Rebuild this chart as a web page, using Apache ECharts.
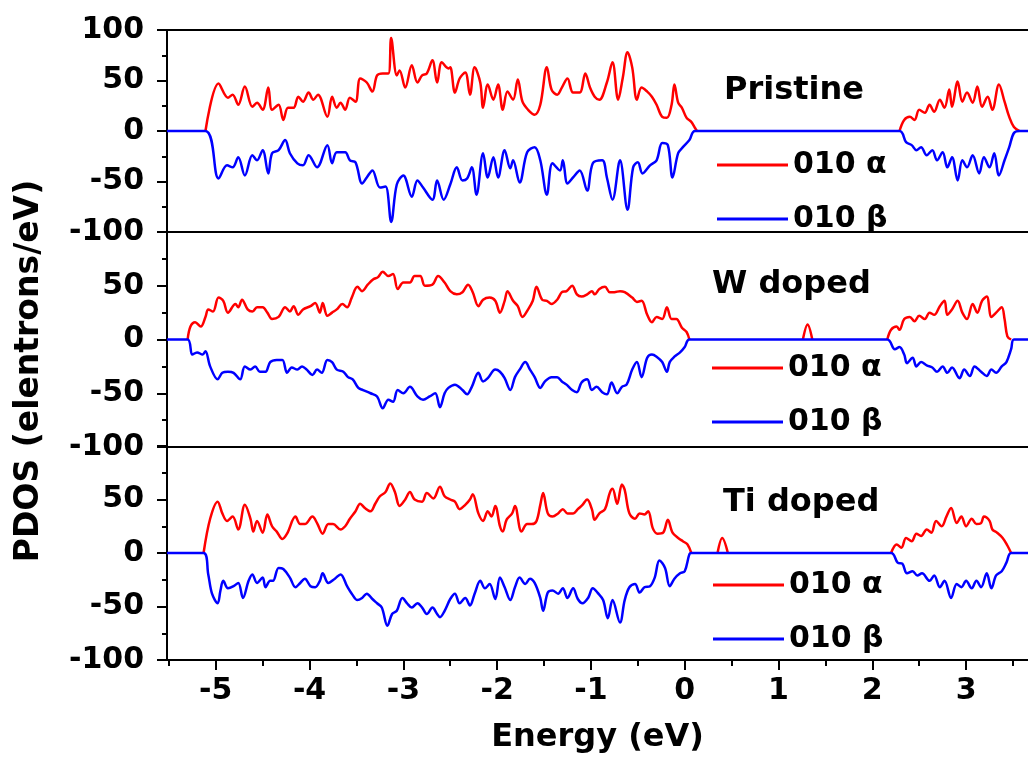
<!DOCTYPE html>
<html><head><meta charset="utf-8">
<script src="https://cdn.jsdelivr.net/npm/echarts@6/dist/echarts.min.js"></script>
<style>html,body{margin:0;padding:0;background:#fff}#c{width:1028px;height:767px}</style>
</head><body><div id="c"></div><script>
// ---------- data ----------
const xTickValues = [-5, -4, -3, -2, -1, 0, 1, 2, 3];
const xMinorTickValues = [-5.5, -4.5, -3.5, -2.5, -1.5, -0.5, 0.5, 1.5, 2.5, 3.5];
const panelNames = ['Pristine', 'W doped', 'Ti doped'];
const seriesNames = ['010 \u03b1', '010 \u03b2'];
const X_MIN = -5.52, X_MAX = 3.66;

// alpha (spin-up) curves: gaps (null) where the curve lies on the zero line
const pristineAlpha = [[-5.11,0],[-4.97,47],[-4.87,33],[-4.82,36],[-4.76,26],[-4.69,44],[-4.61,24],[-4.56,28],[-4.50,21],[-4.44,43],[-4.40,21],[-4.33,26],[-4.28,11],[-4.23,23],[-4.17,23],[-4.12,34],[-4.07,29],[-4.01,38],[-3.96,31],[-3.91,36],[-3.81,14],[-3.76,34],[-3.71,23],[-3.67,28],[-3.62,21],[-3.57,33],[-3.51,29],[-3.46,52],[-3.39,48],[-3.33,39],[-3.28,55],[-3.22,57],[-3.16,57],[-3.13,92],[-3.07,55],[-3.04,60],[-2.98,43],[-2.91,65],[-2.85,48],[-2.80,55],[-2.75,57],[-2.69,70],[-2.64,48],[-2.59,68],[-2.52,62],[-2.50,63],[-2.45,38],[-2.40,52],[-2.34,58],[-2.29,36],[-2.24,63],[-2.18,48],[-2.15,23],[-2.10,46],[-2.04,31],[-1.99,46],[-1.94,21],[-1.89,39],[-1.83,31],[-1.78,51],[-1.73,29],[-1.67,21],[-1.60,16],[-1.54,26],[-1.47,63],[-1.42,41],[-1.36,36],[-1.31,43],[-1.25,52],[-1.19,38],[-1.12,38],[-1.06,57],[-1.01,43],[-0.96,34],[-0.91,31],[-0.83,48],[-0.77,68],[-0.71,31],[-0.66,53],[-0.61,78],[-0.56,63],[-0.51,31],[-0.46,43],[-0.40,39],[-0.35,34],[-0.30,26],[-0.24,14],[-0.19,13],[-0.14,26],[-0.11,46],[-0.07,28],[-0.03,23],[0.02,13],[0.07,9],[0.11,3],[0.13,0],[1.0,null],
  [2.29,0],[2.34,11],[2.40,14],[2.45,11],[2.50,21],[2.56,18],[2.61,26],[2.66,19],[2.72,31],[2.77,23],[2.82,41],[2.85,24],[2.91,49],[2.96,29],[3.01,38],[3.07,28],[3.12,44],[3.17,24],[3.23,34],[3.28,21],[3.35,46],[3.41,29],[3.46,14],[3.51,4],[3.57,0]];
const pristineBeta = [[-5.52,0],[-5.11,0],[-4.97,-47],[-4.88,-34],[-4.82,-36],[-4.76,-26],[-4.69,-44],[-4.61,-24],[-4.56,-29],[-4.50,-19],[-4.44,-42],[-4.40,-22],[-4.33,-19],[-4.26,-9],[-4.21,-22],[-4.13,-32],[-4.07,-34],[-4.01,-24],[-3.92,-36],[-3.81,-14],[-3.76,-32],[-3.71,-21],[-3.62,-21],[-3.57,-29],[-3.51,-31],[-3.44,-52],[-3.39,-46],[-3.33,-39],[-3.25,-56],[-3.19,-55],[-3.13,-90],[-3.07,-53],[-3.00,-44],[-2.91,-65],[-2.85,-49],[-2.79,-56],[-2.69,-68],[-2.64,-49],[-2.57,-68],[-2.50,-53],[-2.43,-36],[-2.37,-49],[-2.32,-47],[-2.27,-36],[-2.22,-63],[-2.15,-22],[-2.10,-46],[-2.04,-26],[-1.99,-46],[-1.92,-19],[-1.86,-37],[-1.83,-29],[-1.76,-51],[-1.68,-21],[-1.60,-16],[-1.54,-29],[-1.47,-63],[-1.41,-32],[-1.33,-39],[-1.30,-29],[-1.25,-52],[-1.19,-46],[-1.12,-39],[-1.04,-59],[-0.98,-32],[-0.88,-29],[-0.83,-46],[-0.77,-68],[-0.69,-29],[-0.61,-78],[-0.55,-36],[-0.50,-31],[-0.45,-42],[-0.37,-34],[-0.30,-29],[-0.24,-12],[-0.18,-14],[-0.13,-46],[-0.07,-22],[-0.02,-16],[0.05,-9],[0.11,0],
  [2.29,0],[2.36,-11],[2.42,-14],[2.47,-19],[2.52,-16],[2.58,-24],[2.64,-19],[2.69,-29],[2.75,-21],[2.80,-36],[2.85,-26],[2.91,-49],[2.96,-29],[3.01,-36],[3.07,-24],[3.14,-42],[3.19,-26],[3.25,-36],[3.30,-22],[3.35,-44],[3.41,-29],[3.46,-16],[3.51,-2],[3.57,0],[3.66,0]];

const wAlpha = [[-5.30,0],[-5.27,12],[-5.22,16],[-5.16,12],[-5.11,21],[-5.08,28],[-5.03,26],[-4.97,39],[-4.92,36],[-4.87,25],[-4.79,33],[-4.76,30],[-4.72,37],[-4.66,28],[-4.61,26],[-4.56,30],[-4.50,30],[-4.45,25],[-4.40,19],[-4.33,21],[-4.26,30],[-4.21,26],[-4.17,31],[-4.12,23],[-4.07,28],[-3.99,31],[-3.94,34],[-3.89,25],[-3.86,34],[-3.81,22],[-3.76,25],[-3.71,28],[-3.65,33],[-3.60,30],[-3.55,39],[-3.49,49],[-3.44,45],[-3.38,51],[-3.32,56],[-3.27,58],[-3.22,63],[-3.16,59],[-3.11,61],[-3.06,47],[-3.00,53],[-2.93,53],[-2.88,59],[-2.82,59],[-2.77,50],[-2.69,51],[-2.63,59],[-2.56,53],[-2.50,45],[-2.43,42],[-2.37,44],[-2.31,51],[-2.26,44],[-2.20,31],[-2.15,37],[-2.08,39],[-2.02,36],[-1.97,25],[-1.92,36],[-1.89,45],[-1.83,36],[-1.78,31],[-1.73,21],[-1.67,28],[-1.62,36],[-1.58,49],[-1.52,37],[-1.47,36],[-1.42,33],[-1.36,37],[-1.31,44],[-1.26,45],[-1.20,50],[-1.15,42],[-1.10,40],[-1.04,42],[-0.99,45],[-0.96,42],[-0.91,47],[-0.85,49],[-0.80,44],[-0.75,44],[-0.69,45],[-0.64,44],[-0.56,39],[-0.51,35],[-0.46,36],[-0.40,23],[-0.35,16],[-0.30,21],[-0.24,19],[-0.19,30],[-0.14,19],[-0.09,19],[-0.03,11],[0.02,7],[0.05,0],[0.6,null],
  [1.26,0],[1.31,14],[1.36,0],[1.8,null],
  [2.16,0],[2.20,9],[2.26,12],[2.29,9],[2.34,19],[2.40,21],[2.45,17],[2.50,22],[2.56,19],[2.61,25],[2.66,23],[2.72,31],[2.77,36],[2.80,23],[2.85,28],[2.91,36],[2.96,25],[3.01,19],[3.07,33],[3.12,25],[3.17,36],[3.22,40],[3.27,21],[3.32,25],[3.38,30],[3.41,19],[3.44,3],[3.48,0]];
const wBeta = [[-5.52,0],[-5.30,0],[-5.25,-14],[-5.20,-12],[-5.14,-14],[-5.11,-11],[-5.06,-25],[-4.98,-37],[-4.93,-31],[-4.87,-30],[-4.81,-31],[-4.74,-37],[-4.69,-25],[-4.63,-28],[-4.58,-25],[-4.53,-30],[-4.47,-30],[-4.42,-21],[-4.35,-19],[-4.29,-19],[-4.24,-31],[-4.19,-26],[-4.13,-28],[-4.08,-25],[-4.03,-28],[-3.97,-33],[-3.92,-28],[-3.87,-31],[-3.81,-19],[-3.76,-21],[-3.71,-28],[-3.64,-30],[-3.59,-35],[-3.54,-37],[-3.48,-45],[-3.43,-47],[-3.35,-50],[-3.28,-53],[-3.22,-64],[-3.16,-56],[-3.11,-58],[-3.06,-47],[-3.00,-50],[-2.93,-44],[-2.85,-53],[-2.79,-56],[-2.72,-53],[-2.66,-50],[-2.61,-63],[-2.56,-50],[-2.52,-45],[-2.45,-42],[-2.37,-47],[-2.32,-51],[-2.27,-44],[-2.20,-31],[-2.15,-39],[-2.10,-36],[-2.02,-28],[-1.97,-30],[-1.92,-36],[-1.86,-47],[-1.81,-35],[-1.76,-28],[-1.70,-21],[-1.65,-28],[-1.60,-35],[-1.54,-45],[-1.49,-39],[-1.42,-35],[-1.36,-35],[-1.31,-39],[-1.26,-42],[-1.20,-47],[-1.15,-49],[-1.10,-40],[-1.04,-37],[-0.99,-47],[-0.94,-44],[-0.88,-49],[-0.83,-51],[-0.78,-40],[-0.72,-50],[-0.67,-44],[-0.62,-42],[-0.56,-28],[-0.51,-21],[-0.46,-35],[-0.40,-17],[-0.35,-14],[-0.30,-16],[-0.24,-21],[-0.19,-30],[-0.16,-21],[-0.11,-16],[-0.05,-12],[0.00,-7],[0.05,0],
  [2.16,0],[2.24,-9],[2.29,-7],[2.34,-14],[2.37,-22],[2.43,-17],[2.47,-25],[2.52,-21],[2.58,-24],[2.64,-26],[2.69,-30],[2.75,-25],[2.80,-31],[2.85,-26],[2.93,-36],[2.98,-28],[3.04,-34],[3.09,-25],[3.16,-30],[3.22,-34],[3.27,-28],[3.32,-31],[3.38,-25],[3.43,-21],[3.48,-9],[3.51,0],[3.66,0]];

const tiAlpha = [[-5.13,0],[-5.06,32],[-4.98,48],[-4.93,37],[-4.88,30],[-4.82,34],[-4.76,22],[-4.69,45],[-4.63,32],[-4.60,20],[-4.56,30],[-4.50,19],[-4.45,36],[-4.40,25],[-4.35,20],[-4.29,13],[-4.24,18],[-4.15,34],[-4.10,27],[-4.05,27],[-3.97,34],[-3.92,28],[-3.86,18],[-3.80,27],[-3.75,27],[-3.67,22],[-3.62,25],[-3.57,32],[-3.51,39],[-3.46,46],[-3.41,42],[-3.35,39],[-3.30,46],[-3.25,53],[-3.19,57],[-3.14,65],[-3.09,57],[-3.04,44],[-2.98,50],[-2.93,57],[-2.88,50],[-2.80,48],[-2.75,56],[-2.68,51],[-2.61,62],[-2.56,53],[-2.50,50],[-2.45,48],[-2.40,41],[-2.34,45],[-2.29,50],[-2.26,55],[-2.20,37],[-2.15,30],[-2.10,39],[-2.06,34],[-2.02,44],[-1.97,25],[-1.94,20],[-1.90,31],[-1.84,37],[-1.81,44],[-1.74,20],[-1.68,27],[-1.63,27],[-1.58,30],[-1.54,45],[-1.51,56],[-1.46,37],[-1.41,34],[-1.35,37],[-1.30,41],[-1.25,37],[-1.19,37],[-1.14,41],[-1.09,45],[-1.04,50],[-0.99,41],[-0.96,31],[-0.91,37],[-0.85,41],[-0.80,56],[-0.77,60],[-0.72,46],[-0.67,64],[-0.64,59],[-0.59,37],[-0.53,32],[-0.48,37],[-0.43,36],[-0.39,39],[-0.34,23],[-0.29,18],[-0.23,19],[-0.18,31],[-0.13,19],[-0.07,14],[-0.02,11],[0.03,8],[0.07,0],[0.2,null],
  [0.35,0],[0.40,14],[0.46,0],[1.2,null],
  [2.20,0],[2.26,8],[2.31,5],[2.36,14],[2.42,11],[2.47,18],[2.52,16],[2.58,22],[2.63,19],[2.68,30],[2.74,25],[2.79,34],[2.84,42],[2.90,28],[2.95,34],[3.00,25],[3.06,32],[3.11,27],[3.16,28],[3.19,34],[3.25,30],[3.28,22],[3.33,19],[3.39,14],[3.44,7],[3.48,0]];
const tiBeta = [[-5.52,0],[-5.13,0],[-5.08,-20],[-5.04,-38],[-4.98,-47],[-4.95,-35],[-4.92,-26],[-4.87,-33],[-4.81,-31],[-4.76,-28],[-4.71,-42],[-4.65,-26],[-4.61,-20],[-4.56,-28],[-4.50,-23],[-4.47,-32],[-4.42,-26],[-4.39,-26],[-4.33,-14],[-4.28,-15],[-4.21,-23],[-4.15,-32],[-4.10,-28],[-4.05,-24],[-3.99,-31],[-3.94,-32],[-3.89,-26],[-3.86,-19],[-3.80,-28],[-3.73,-24],[-3.67,-20],[-3.60,-31],[-3.55,-38],[-3.49,-44],[-3.44,-42],[-3.39,-38],[-3.33,-43],[-3.28,-47],[-3.23,-51],[-3.17,-68],[-3.12,-57],[-3.07,-54],[-3.01,-42],[-2.96,-47],[-2.91,-51],[-2.85,-47],[-2.80,-51],[-2.75,-57],[-2.69,-51],[-2.64,-57],[-2.61,-60],[-2.56,-54],[-2.50,-43],[-2.45,-38],[-2.40,-47],[-2.34,-42],[-2.29,-49],[-2.24,-38],[-2.18,-26],[-2.13,-33],[-2.08,-29],[-2.02,-43],[-1.97,-23],[-1.92,-32],[-1.86,-44],[-1.81,-32],[-1.76,-23],[-1.70,-29],[-1.65,-24],[-1.60,-28],[-1.54,-42],[-1.51,-54],[-1.46,-37],[-1.41,-35],[-1.35,-38],[-1.30,-33],[-1.25,-42],[-1.19,-33],[-1.14,-43],[-1.09,-47],[-1.03,-42],[-0.98,-33],[-0.93,-37],[-0.87,-44],[-0.82,-61],[-0.77,-44],[-0.69,-65],[-0.64,-44],[-0.59,-32],[-0.53,-29],[-0.48,-37],[-0.43,-32],[-0.37,-31],[-0.32,-23],[-0.27,-7],[-0.21,-14],[-0.16,-31],[-0.11,-24],[-0.05,-19],[0.00,-17],[0.05,-1],[0.07,0],
  [2.20,0],[2.27,-9],[2.32,-10],[2.37,-19],[2.43,-17],[2.48,-21],[2.53,-19],[2.61,-26],[2.66,-21],[2.72,-32],[2.77,-26],[2.84,-42],[2.90,-29],[2.95,-32],[3.00,-26],[3.06,-33],[3.11,-26],[3.16,-32],[3.22,-19],[3.27,-33],[3.32,-21],[3.38,-17],[3.43,-9],[3.48,0],[3.66,0]];

const panelData = [[pristineAlpha, pristineBeta], [wAlpha, wBeta], [tiAlpha, tiBeta]];

// ---------- layout / style ----------
const FONT = 'DejaVu Sans';
const RED = '#ff0000', BLUE = '#0000ff';
const grids = [
  {left: 167, top: 30, width: 862, height: 202},
  {left: 167, top: 232, width: 862, height: 215},
  {left: 167, top: 446, width: 862, height: 214}
];
const axisLineStyle = {color: '#000', width: 2};

const xAxes = [], yAxes = [], series = [], legends = [];
grids.forEach((g, i) => {
  const last = i === grids.length - 1;
  xAxes.push({
    type: 'value', gridIndex: i, min: X_MIN, max: X_MAX, position: 'bottom',
    axisLine: {show: true, onZero: false, lineStyle: axisLineStyle},
    splitLine: {show: false},
    axisTick: last ? {show: true, customValues: xTickValues, length: 10, lineStyle: {color: '#000', width: 2}} : {show: false},
    axisLabel: last ? {show: true, customValues: xTickValues, margin: 16, color: '#000',
      fontFamily: FONT, fontWeight: 'bold', fontSize: 30} : {show: false},
    name: last ? 'Energy (eV)' : '', nameLocation: 'middle', nameGap: 62,
    nameTextStyle: {color: '#000', fontFamily: FONT, fontWeight: 'bold', fontSize: 32}
  });
  yAxes.push({
    type: 'value', gridIndex: i, min: -100, max: 100, interval: 50,
    axisLine: {show: true, onZero: false, lineStyle: axisLineStyle},
    splitLine: {show: false},
    axisTick: {show: true, length: 10, lineStyle: {color: '#000', width: 2}},
    minorTick: {show: true, splitNumber: 2, length: 5, lineStyle: {color: '#000', width: 2}},
    axisLabel: {margin: 23, color: '#000', fontFamily: FONT, fontWeight: 'bold', fontSize: 30,
      formatter: v => (i > 0 && v === 100) ? '' : String(v)}
  });
});
// minor x ticks on bottom panel
xAxes.push({
  type: 'value', gridIndex: 2, min: X_MIN, max: X_MAX, position: 'bottom',
  axisLine: {show: false, onZero: false}, splitLine: {show: false}, axisLabel: {show: false},
  axisTick: {show: true, customValues: xMinorTickValues, length: 6, lineStyle: {color: '#000', width: 2}}
});
// top border of top panel
xAxes.push({
  type: 'value', gridIndex: 0, min: X_MIN, max: X_MAX, position: 'top',
  axisLine: {show: true, onZero: false, lineStyle: axisLineStyle}, splitLine: {show: false},
  axisLabel: {show: false}, axisTick: {show: false}
});

panelData.forEach((pair, i) => {
  pair.forEach((data, k) => {
    series.push({
      type: 'line', name: seriesNames[k], xAxisIndex: i, yAxisIndex: i, data: data,
      showSymbol: false, smooth: 0.35, connectNulls: false, color: k === 0 ? RED : BLUE,
      lineStyle: {width: 2.5, color: k === 0 ? RED : BLUE}, z: 2 + k
    });
  });
});

const legendTops = [150, 353, 570];
const legendLefts = [717, 712, 713];
legendTops.forEach((t, i) => {
  legends.push({
    data: seriesNames, orient: 'vertical', left: legendLefts[i], top: t, padding: 0,
    icon: 'rect', itemWidth: 71, itemHeight: 3, itemGap: 24,
    textStyle: {color: '#000', fontFamily: FONT, fontWeight: 'bold', fontSize: 30}
  });
});

const panelLabelPos = [[724, 95], [712, 289], [723, 507]];
const graphics = panelNames.map((n, i) => ({
  type: 'text', left: panelLabelPos[i][0], top: panelLabelPos[i][1] - 20,
  style: {text: n, fill: '#000', font: 'bold 32px "' + FONT + '"'}
}));
graphics.push({
  type: 'text', x: 29, y: 371, rotation: Math.PI / 2,
  style: {text: 'PDOS (elentrons/eV)', fill: '#000', font: 'bold 33px "' + FONT + '"',
    align: 'center', verticalAlign: 'middle'}
});

const chart = echarts.init(document.getElementById('c'), null, {renderer: 'canvas'});
chart.setOption({
  animation: false, backgroundColor: '#fff',
  grid: grids, xAxis: xAxes, yAxis: yAxes, series: series, legend: legends, graphic: graphics
});
</script></body></html>
